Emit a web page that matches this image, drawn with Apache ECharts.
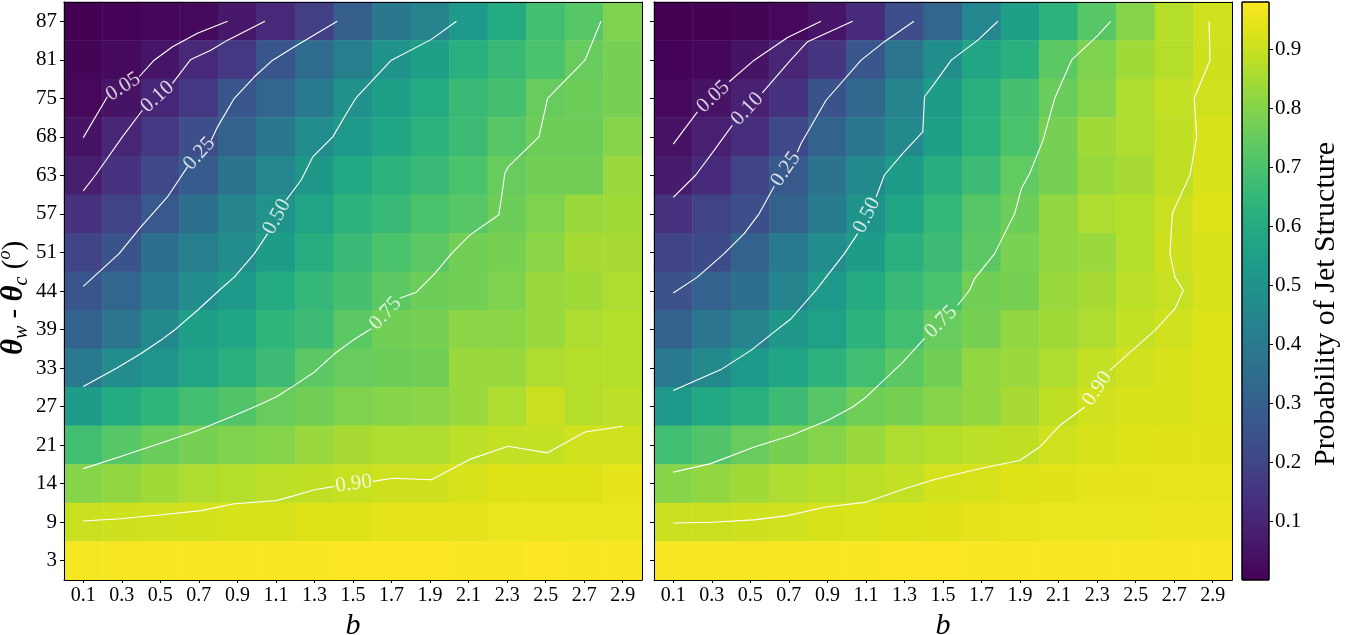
<!DOCTYPE html>
<html><head><meta charset="utf-8">
<script src="https://cdn.jsdelivr.net/npm/echarts@6/dist/echarts.min.js"></script>
<style>html,body{margin:0;padding:0;background:#fff}#c{width:1358px;height:635px}</style>
</head><body><div id="c"></div>
<script>
// ---------- data ----------
const B_LABELS = ['0.1','0.3','0.5','0.7','0.9','1.1','1.3','1.5','1.7','1.9','2.1','2.3','2.5','2.7','2.9'];
const THETA_LABELS = ['3','9','14','21','27','33','39','44','51','57','63','68','75','81','87']; // bottom -> top

// rows listed from top (87) to bottom (3), columns b = 0.1 ... 2.9
const LEFT_VALUES = [
 [0.00,0.005,0.015,0.025,0.06,0.11,0.18,0.29,0.39,0.44,0.53,0.60,0.68,0.72,0.79],
 [0.01,0.025,0.055,0.11,0.16,0.26,0.34,0.42,0.50,0.55,0.62,0.66,0.70,0.75,0.78],
 [0.02,0.05,0.105,0.16,0.26,0.32,0.40,0.49,0.55,0.60,0.66,0.69,0.75,0.76,0.78],
 [0.05,0.10,0.16,0.23,0.31,0.39,0.47,0.53,0.58,0.63,0.67,0.72,0.76,0.76,0.80],
 [0.08,0.14,0.21,0.28,0.37,0.45,0.52,0.59,0.63,0.66,0.70,0.75,0.77,0.77,0.83],
 [0.14,0.19,0.27,0.36,0.44,0.50,0.57,0.63,0.66,0.70,0.72,0.76,0.79,0.83,0.84],
 [0.20,0.25,0.35,0.42,0.47,0.54,0.61,0.66,0.70,0.73,0.77,0.78,0.81,0.85,0.85],
 [0.26,0.32,0.40,0.47,0.53,0.60,0.65,0.69,0.73,0.76,0.77,0.79,0.83,0.84,0.86],
 [0.31,0.38,0.46,0.55,0.58,0.64,0.67,0.73,0.77,0.78,0.81,0.81,0.83,0.86,0.87],
 [0.40,0.47,0.51,0.57,0.62,0.67,0.73,0.75,0.76,0.77,0.83,0.83,0.86,0.87,0.87],
 [0.54,0.60,0.64,0.68,0.71,0.75,0.77,0.79,0.80,0.81,0.83,0.86,0.90,0.87,0.88],
 [0.68,0.72,0.755,0.78,0.79,0.80,0.83,0.85,0.86,0.86,0.88,0.89,0.89,0.91,0.91],
 [0.80,0.82,0.84,0.86,0.87,0.88,0.885,0.895,0.905,0.905,0.92,0.93,0.93,0.93,0.94],
 [0.90,0.905,0.91,0.915,0.92,0.92,0.93,0.93,0.94,0.94,0.94,0.95,0.95,0.95,0.95],
 [0.965,0.97,0.97,0.975,0.975,0.975,0.975,0.98,0.98,0.98,0.975,0.975,0.98,0.975,0.975]
];
const RIGHT_VALUES = [
 [0.00,0.003,0.01,0.02,0.056,0.12,0.23,0.32,0.45,0.55,0.63,0.72,0.80,0.87,0.91],
 [0.005,0.015,0.05,0.10,0.15,0.265,0.38,0.48,0.575,0.62,0.73,0.79,0.84,0.87,0.905],
 [0.02,0.05,0.09,0.14,0.25,0.33,0.44,0.54,0.62,0.69,0.755,0.80,0.86,0.89,0.91],
 [0.045,0.085,0.13,0.21,0.31,0.39,0.46,0.55,0.63,0.70,0.78,0.84,0.86,0.885,0.92],
 [0.075,0.12,0.20,0.27,0.37,0.46,0.54,0.61,0.67,0.74,0.78,0.83,0.85,0.885,0.92],
 [0.14,0.19,0.235,0.31,0.41,0.50,0.58,0.65,0.72,0.76,0.82,0.86,0.87,0.90,0.93],
 [0.20,0.22,0.31,0.40,0.47,0.54,0.62,0.67,0.73,0.785,0.82,0.83,0.87,0.905,0.92],
 [0.245,0.30,0.36,0.44,0.525,0.60,0.66,0.70,0.77,0.78,0.83,0.85,0.88,0.895,0.92],
 [0.31,0.38,0.44,0.52,0.56,0.63,0.68,0.75,0.78,0.82,0.84,0.86,0.89,0.91,0.93],
 [0.40,0.46,0.53,0.58,0.63,0.68,0.73,0.77,0.82,0.83,0.86,0.89,0.91,0.92,0.93],
 [0.53,0.59,0.62,0.67,0.72,0.765,0.78,0.80,0.82,0.85,0.885,0.91,0.92,0.92,0.93],
 [0.68,0.71,0.75,0.78,0.80,0.83,0.86,0.87,0.88,0.885,0.91,0.92,0.93,0.935,0.935],
 [0.80,0.82,0.84,0.86,0.87,0.88,0.89,0.915,0.92,0.93,0.935,0.94,0.94,0.945,0.945],
 [0.90,0.90,0.905,0.91,0.92,0.925,0.93,0.935,0.94,0.945,0.95,0.95,0.95,0.955,0.955],
 [0.97,0.97,0.97,0.975,0.975,0.975,0.98,0.98,0.975,0.975,0.975,0.975,0.975,0.975,0.975]
];

const CB_MIN = 0.0, CB_MAX = 0.98;
const CB_TICKS = [0.1,0.2,0.3,0.4,0.5,0.6,0.7,0.8,0.9];

// contour polylines in data units: [b, row position (0 = "3" row, 14 = "87" row)]
// each contour is split in two at its inline label
const LEFT_C05 = [[[0.1,10.98],[0.225,12.04]],
 [[0.39,12.56],[0.468,12.99],[0.563,13.34],[0.693,13.69],[0.849,14.0]]];
const LEFT_C10 = [[[0.1,9.60],[0.164,10.01],[0.303,11.0],[0.407,11.69]],
 [[0.563,12.39],[0.658,13.01],[0.762,13.25],[0.849,13.51],[1.043,14.0]]];
const LEFT_C25 = [[[0.1,7.12],[0.286,7.97],[0.398,8.66],[0.537,9.44],[0.641,10.22]],
 [[0.764,10.91],[0.797,11.26],[0.884,12.0],[0.988,12.56],[1.083,12.99],[1.196,13.34],[1.418,14.0]]];
const LEFT_C50 = [[[0.1,4.52],[0.268,4.98],[0.398,5.37],[0.502,5.72],[0.572,5.98],[0.693,6.50],[0.806,7.02],[0.884,7.36],[0.988,7.97],[1.057,8.49]],
 [[1.153,9.36],[1.231,9.88],[1.291,10.48],[1.395,11.0],[1.456,11.52],[1.517,12.02],[1.699,12.99],[1.907,13.53],[2.037,14.0]]];
const LEFT_C75 = [[[0.1,2.39],[0.286,2.69],[0.52,3.08],[0.693,3.38],[0.884,3.77],[1.005,4.03],[1.101,4.25],[1.196,4.55],[1.30,4.90],[1.404,5.37],[1.499,5.72],[1.595,6.02]],
 [[1.742,6.81],[1.829,6.97],[1.924,7.45],[2.011,7.97],[2.106,8.45],[2.257,8.98],[2.271,9.44],[2.288,10.05],[2.305,10.22],[2.465,11.0],[2.51,12.0],[2.704,12.99],[2.787,14.0]]];
const LEFT_C90 = [[[0.1,1.03],[0.294,1.09],[0.52,1.20],[0.711,1.30],[0.884,1.48],[1.101,1.56],[1.196,1.69],[1.30,1.84],[1.404,1.93]],
 [[1.603,2.06],[1.707,2.14],[1.907,2.10],[2.106,2.63],[2.305,2.97],[2.51,2.80],[2.704,3.34],[2.9,3.49]]];

const RIGHT_C05 = [[[0.1,10.81],[0.225,11.65]],
 [[0.39,12.43],[0.52,12.99],[0.693,13.58],[0.867,14.0]]];
const RIGHT_C10 = [[[0.1,9.43],[0.217,10.01],[0.312,10.65],[0.406,11.30]],
 [[0.562,12.14],[0.702,12.95],[0.797,13.47],[1.031,14.0]]];
const RIGHT_C25 = [[[0.1,6.95],[0.225,7.36],[0.364,7.97],[0.468,8.49],[0.546,9.01],[0.624,9.72]],
 [[0.744,10.60],[0.763,10.83],[0.893,11.95],[1.075,12.99],[1.196,13.47],[1.349,14.0]]];
const RIGHT_C50 = [[[0.1,4.42],[0.347,4.96],[0.503,5.46],[0.624,5.94],[0.711,6.28],[0.841,7.02],[0.867,7.19],[0.988,7.97],[1.057,8.49]],
 [[1.153,9.44],[1.196,10.01],[1.291,10.57],[1.395,11.13],[1.404,12.04],[1.456,12.39],[1.543,12.99],[1.681,13.51],[1.785,14.0]]];
const RIGHT_C75 = [[[0.1,2.30],[0.295,2.52],[0.52,2.95],[0.711,3.25],[0.901,3.64],[1.031,3.99],[1.101,4.25],[1.283,5.11],[1.404,5.77]],
 [[1.576,6.63],[1.638,7.02],[1.664,7.32],[1.768,7.97],[1.872,9.01],[1.907,9.66],[1.95,10.05],[2.019,10.91],[2.08,12.0],[2.167,12.99],[2.305,13.64],[2.37,14.0]]];
const RIGHT_C90 = [[[0.1,0.98],[0.295,1.0],[0.52,1.06],[0.693,1.17],[0.884,1.39],[1.101,1.52],[1.30,1.87],[1.456,2.11],[1.699,2.40],[1.898,2.60],[2.002,2.95],[2.106,3.51],[2.236,3.99]],
 [[2.366,4.94],[2.444,5.29],[2.60,5.98],[2.704,6.54],[2.747,7.02],[2.704,7.36],[2.678,7.97],[2.69,9.01],[2.782,10.01],[2.817,11.0],[2.804,12.0],[2.886,12.99],[2.881,14.0]]];

const CONTOUR_LEVELS = ['0.05','0.10','0.25','0.50','0.75','0.90'];

// ---------- styling ----------
const VIRIDIS = ['#440154','#471365','#482475','#463480','#414487','#3b528b','#355f8d','#2f6c8e','#2a788e','#25848e','#21918c','#1e9c89','#22a884','#2fb47c','#44bf70','#5ec962','#7ad151','#9bd93c','#bddf26','#dfe318','#fde725'];
const FONT = '"Liberation Serif", "Times New Roman", serif';

function toCells(rows) {
  const out = [];
  const n = rows.length;
  rows.forEach((row, j) => row.forEach((v, i) => out.push([i, n - 1 - j, v])));
  return out;
}

const chart = echarts.init(document.getElementById('c'), null, {renderer: 'canvas'});

const GRIDS = [
  {left: 64, top: 2, width: 578, height: 578, outerBoundsMode: 'none', containLabel: false},
  {left: 654, top: 2, width: 578, height: 578, outerBoundsMode: 'none', containLabel: false},
  {left: 1242, top: 2, width: 27, height: 578, outerBoundsMode: 'none', containLabel: false}
];
const SPINE = {show: true, onZero: false, lineStyle: {color: '#000', width: 1}};

function catX(gi) {
  return {
    gridIndex: gi, type: 'category', data: B_LABELS, position: 'bottom', z: 10,
    axisLine: SPINE,
    axisTick: {show: true, alignWithLabel: true, length: 3, lineStyle: {color: '#000'}},
    axisLabel: {interval: 0, fontFamily: FONT, fontSize: 20, color: '#000', margin: 6},
    splitLine: {show: false},
    name: 'b', nameLocation: 'middle', nameGap: 24,
    nameTextStyle: {fontFamily: FONT, fontStyle: 'italic', fontSize: 30, color: '#000'}
  };
}
function catY(gi, showLabels) {
  const ax = {
    gridIndex: gi, type: 'category', data: THETA_LABELS, position: 'left', z: 10,
    axisLine: SPINE,
    axisTick: {show: true, alignWithLabel: true, length: 4, lineStyle: {color: '#000'}},
    axisLabel: {show: showLabels, interval: 0, fontFamily: FONT, fontSize: 21, color: '#000', margin: 7},
    splitLine: {show: false}
  };
  if (showLabels) {
    ax.name = '{t|θ}{s|w}{n| - }{t|θ}{s|c}{n| (}{p|o}{n|)}';
    ax.nameLocation = 'middle';
    ax.nameRotate = 90;
    ax.nameGap = 30;
    ax.nameTextStyle = {
      color: '#000', fontFamily: FONT, padding: [0, 14, 0, 0],
      rich: {
        t: {fontFamily: FONT, fontStyle: 'italic', fontWeight: 'bold', fontSize: 31, lineHeight: 36, color: '#000'},
        n: {fontFamily: FONT, fontSize: 29, lineHeight: 36, color: '#000'},
        s: {fontFamily: FONT, fontStyle: 'italic', fontSize: 20, lineHeight: 15, verticalAlign: 'bottom', color: '#000'},
        p: {fontFamily: FONT, fontStyle: 'italic', fontSize: 18, lineHeight: 16, verticalAlign: 'top', color: '#000'}
      }
    };
  }
  return ax;
}
function valX(gi) {
  return {gridIndex: gi, type: 'value', min: 0, max: 3, position: 'top', z: 10,
    axisLine: SPINE, axisTick: {show: false},
    axisLabel: {show: false}, splitLine: {show: false}};
}
function valY(gi) {
  return {gridIndex: gi, type: 'value', min: -0.5, max: 14.5, position: 'right', z: 10,
    axisLine: SPINE, axisTick: {show: false},
    axisLabel: {show: false}, splitLine: {show: false}};
}

const xAxes = [catX(0), catX(1), valX(0), valX(1),
  {gridIndex: 2, type: 'value', min: 0, max: 1, show: false, axisLine: {onZero: false}}];
const yAxes = [catY(0, true), catY(1, false), valY(0), valY(1),
  {gridIndex: 2, type: 'value', min: CB_MIN, max: CB_MAX, position: 'right', z: 10,
   axisLine: {show: false, onZero: false},
   axisTick: {show: true, length: 4, customValues: CB_TICKS, lineStyle: {color: '#000'}},
   axisLabel: {customValues: CB_TICKS, formatter: v => v.toFixed(1), fontFamily: FONT, fontSize: 21, color: '#000', margin: 6},
   splitLine: {show: false},
   name: 'Probability of Jet Structure', nameLocation: 'middle', nameRotate: 90, nameGap: 42,
   nameTextStyle: {fontFamily: FONT, fontSize: 30, color: '#000', padding: [0, 26, 0, 0]}}];

const CONTOURS = [];
[[LEFT_C05, LEFT_C10, LEFT_C25, LEFT_C50, LEFT_C75, LEFT_C90], [RIGHT_C05, RIGHT_C10, RIGHT_C25, RIGHT_C50, RIGHT_C75, RIGHT_C90]]
  .forEach((set, p) => set.forEach((segs, k) => CONTOURS.push({axis: 2 + p, text: CONTOUR_LEVELS[k], segs})));

const series = [
  {type: 'heatmap', xAxisIndex: 0, yAxisIndex: 0, data: toCells(LEFT_VALUES), progressive: 0, silent: true, itemStyle: {borderWidth: 0}, emphasis: {disabled: true}},
  {type: 'heatmap', xAxisIndex: 1, yAxisIndex: 1, data: toCells(RIGHT_VALUES), progressive: 0, silent: true, itemStyle: {borderWidth: 0}, emphasis: {disabled: true}},
  {type: 'custom', xAxisIndex: 4, yAxisIndex: 4, silent: true, z: 3,
   data: [[0, CB_MIN, CB_MAX]],
   encode: {x: 0, y: [1, 2]},
   renderItem: (params, api) => {
     const p0 = api.coord([0, api.value(1)]);
     const p1 = api.coord([1, api.value(2)]);
     return {type: 'rect', shape: {x: p0[0], y: p1[1], width: p1[0] - p0[0], height: p0[1] - p1[1]},
       style: {fill: new echarts.graphic.LinearGradient(0, 1, 0, 0, VIRIDIS.map((c, i) => ({offset: i / (VIRIDIS.length - 1), color: c}))),
               stroke: '#000', lineWidth: 1}};
   }}
];
CONTOURS.forEach(c => c.segs.forEach(seg => series.push({
  type: 'line', xAxisIndex: c.axis, yAxisIndex: c.axis, data: seg, symbol: 'none', silent: true, z: 5,
  lineStyle: {color: '#fff', width: 1.1}, animation: false
})));

const option = {
  animation: false,
  backgroundColor: '#fff',
  grid: GRIDS,
  xAxis: xAxes,
  yAxis: yAxes,
  visualMap: {show: false, type: 'continuous', min: CB_MIN, max: CB_MAX, seriesIndex: [0, 1], inRange: {color: VIRIDIS}},
  series
};
chart.setOption(option);

// inline contour labels, placed in the gap of each contour and rotated along it
const labelSeries = CONTOURS.map(c => {
  const a = c.segs[0][c.segs[0].length - 1], b = c.segs[1][0];
  const finder = {xAxisIndex: c.axis, yAxisIndex: c.axis};
  const pa = chart.convertToPixel(finder, a), pb = chart.convertToPixel(finder, b);
  let ang = Math.atan2(-(pb[1] - pa[1]), pb[0] - pa[0]) * 180 / Math.PI;
  if (ang > 90) ang -= 180;
  if (ang < -90) ang += 180;
  const mid = [(a[0] + b[0]) / 2, (a[1] + b[1]) / 2];
  return {type: 'scatter', xAxisIndex: c.axis, yAxisIndex: c.axis, silent: true, z: 6,
    symbolSize: 2, itemStyle: {color: 'rgba(0,0,0,0)'},
    label: {show: true, position: 'inside', color: '#fff', fontFamily: FONT, fontSize: 21},
    data: [{value: mid, label: {formatter: c.text, rotate: ang}}]};
});
chart.setOption({series: series.concat(labelSeries)});
</script>
</body></html>
